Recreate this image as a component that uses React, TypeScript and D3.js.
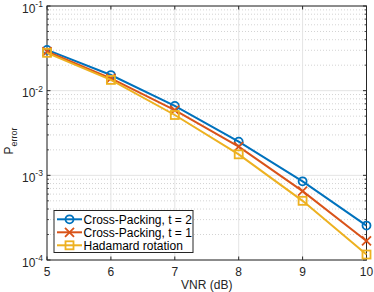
import * as d3 from "d3";

const vnr = [5, 6, 7, 8, 9, 10];
const crossT2 = [0.0303, 0.0153, 0.0066, 0.0025, 0.00085, 0.000255];
const crossT1 = [0.029, 0.014, 0.0059, 0.00218, 0.00065, 0.000168];
const hadamard = [0.028, 0.0134, 0.00516, 0.00177, 0.0005, 0.000116];
const seriesNames = ["Cross-Packing, t = 2", "Cross-Packing, t = 1", "Hadamard rotation"];
const xTicks = [5, 6, 7, 8, 9, 10];
const yDecades = [-4, -3, -2, -1];

const W = 374;
const H = 292;
const left = 47;
const right = 366.5;
const top = 6;
const bottom = 260;
const font = "'Liberation Sans', Arial, Helvetica, sans-serif";
const colors = ["#0072BD", "#D95319", "#EDB120"];
const markers = ["circle", "cross", "square"];

function Marker({ kind, x, y, color }: { kind: string; x: number; y: number; color: string }) {
  if (kind === "circle") {
    return <circle cx={x} cy={y} r={4} fill="none" stroke={color} strokeWidth={1.8} />;
  }
  if (kind === "cross") {
    const s = 4.5;
    return (
      <path
        d={`M${x - s},${y - s}L${x + s},${y + s}M${x - s},${y + s}L${x + s},${y - s}`}
        stroke={color}
        strokeWidth={1.8}
        fill="none"
      />
    );
  }
  const s = 4;
  return <rect x={x - s} y={y - s} width={2 * s} height={2 * s} fill="none" stroke={color} strokeWidth={1.8} />;
}

export default function App() {
  const x = d3.scaleLinear().domain([5, 10]).range([left, right]);
  const y = d3.scaleLog().domain([1e-4, 1e-1]).range([bottom, top]);

  const series = [crossT2, crossT1, hadamard];
  const line = d3
    .line<number>()
    .x((_, i) => x(vnr[i]))
    .y((d) => y(d));

  const minor: number[] = [];
  yDecades.slice(0, 3).forEach((e) => {
    for (let k = 2; k <= 9; k++) minor.push(k * Math.pow(10, e));
  });

  const legendX = 54;
  const legendY = 210.5;
  const legendRows = [219.3, 232.3, 245.3];

  return (
    <svg
      width={W}
      height={H}
      style={{ position: "absolute", left: 0, top: 0, background: "#fff" }}
      fontFamily={font}
    >
      <rect x={0} y={0} width={W} height={H} fill="#fff" />
      {/* minor grid */}
      {minor.map((v) => (
        <line
          key={"mg" + v}
          x1={left}
          x2={right}
          y1={y(v)}
          y2={y(v)}
          stroke="#c8c8c8"
          strokeWidth={0.8}
          strokeDasharray="1,2"
        />
      ))}
      {/* major grid */}
      {xTicks.map((t) => (
        <line key={"gx" + t} x1={x(t)} x2={x(t)} y1={top} y2={bottom} stroke="#e4e4e4" strokeWidth={1} />
      ))}
      {yDecades.map((e) => (
        <line
          key={"gy" + e}
          x1={left}
          x2={right}
          y1={y(Math.pow(10, e))}
          y2={y(Math.pow(10, e))}
          stroke="#e4e4e4"
          strokeWidth={1}
        />
      ))}
      {/* ticks */}
      {xTicks.map((t) => (
        <g key={"tx" + t}>
          <line x1={x(t)} x2={x(t)} y1={bottom} y2={bottom - 3.5} stroke="#262626" />
          <line x1={x(t)} x2={x(t)} y1={top} y2={top + 3.5} stroke="#262626" />
          <text x={x(t)} y={275.5} textAnchor="middle" fontSize={12} fill="#262626">
            {t}
          </text>
        </g>
      ))}
      {minor.map((v) => (
        <g key={"mt" + v}>
          <line x1={left} x2={left + 2} y1={y(v)} y2={y(v)} stroke="#262626" strokeWidth={0.8} />
          <line x1={right} x2={right - 2} y1={y(v)} y2={y(v)} stroke="#262626" strokeWidth={0.8} />
        </g>
      ))}
      {yDecades.map((e) => (
        <g key={"ty" + e}>
          <line x1={left} x2={left + 3.5} y1={y(Math.pow(10, e))} y2={y(Math.pow(10, e))} stroke="#262626" />
          <line x1={right} x2={right - 3.5} y1={y(Math.pow(10, e))} y2={y(Math.pow(10, e))} stroke="#262626" />
          <text x={22} y={y(Math.pow(10, e)) + 6.5} fontSize={12} fill="#262626">
            10
            <tspan dy={-5.5} fontSize={8.5}>
              {"-" + -e}
            </tspan>
          </text>
        </g>
      ))}
      {/* axes box */}
      <rect x={left} y={top} width={right - left} height={bottom - top} fill="none" stroke="#262626" strokeWidth={1} />
      {/* series */}
      {series.map((s, i) => (
        <g key={"s" + i}>
          <path d={line(s) ?? ""} fill="none" stroke={colors[i]} strokeWidth={2} />
          {s.map((v, j) => (
            <Marker key={j} kind={markers[i]} x={x(vnr[j])} y={y(v)} color={colors[i]} />
          ))}
        </g>
      ))}
      {/* legend */}
      <rect x={legendX} y={legendY} width={139} height={42} fill="#fff" stroke="#262626" strokeWidth={1} />
      {seriesNames.map((n, i) => (
        <g key={"l" + i}>
          <line x1={57} x2={82} y1={legendRows[i]} y2={legendRows[i]} stroke={colors[i]} strokeWidth={2} />
          <Marker kind={markers[i]} x={69.5} y={legendRows[i]} color={colors[i]} />
          <text x={83.5} y={legendRows[i] + 4.3} fontSize={12} fill="#000">
            {n}
          </text>
        </g>
      ))}
      {/* axis labels */}
      <text x={(left + right) / 2} y={288.5} textAnchor="middle" fontSize={12} fill="#262626">
        VNR (dB)
      </text>
      <text transform="translate(13,141) rotate(-90)" textAnchor="middle" fontSize={12} fill="#262626">
        P
        <tspan dy={4} fontSize={9}>
          error
        </tspan>
      </text>
    </svg>
  );
}
